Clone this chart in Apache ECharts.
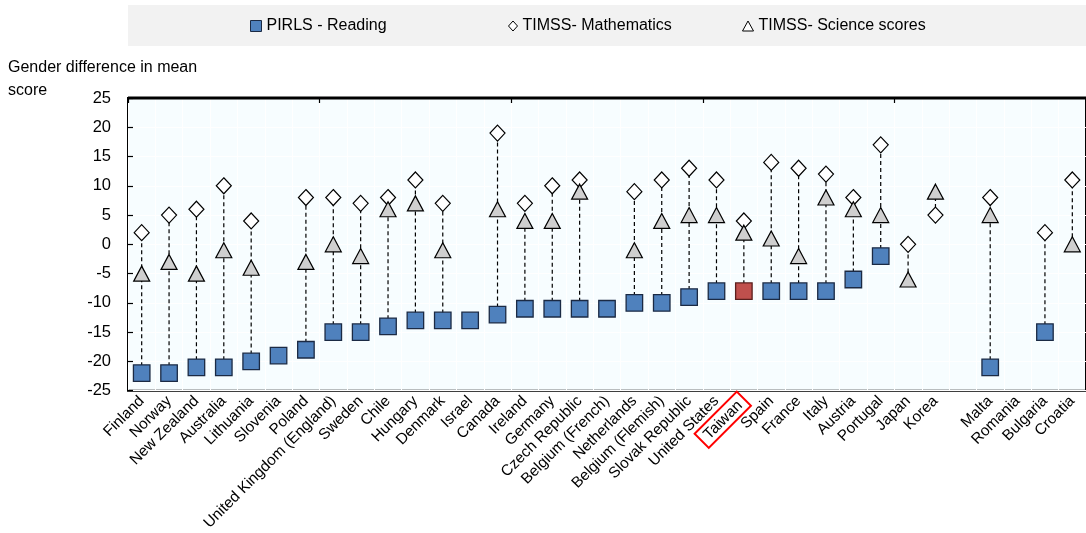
<!DOCTYPE html>
<html>
<head>
<meta charset="utf-8">
<script src="https://cdn.jsdelivr.net/npm/echarts@6/dist/echarts.min.js"></script>
<style>
html,body{margin:0;padding:0;background:#fff;}
#chart{width:1086px;height:533px;}
</style>
</head>
<body>
<div id="chart"></div>
<script>
var categories = ['Finland','Norway','New Zealand','Australia','Lithuania','Slovenia','Poland','United Kingdom (England)','Sweden','Chile','Hungary','Denmark','Israel','Canada','Ireland','Germany','Czech Republic','Belgium (French)','Netherlands','Belgium (Flemish)','Slovak Republic','United States','Taiwan','Spain','France','Italy','Austria','Portugal','Japan','Korea','','Malta','Romania','Bulgaria','Croatia'];
var reading = [-22,-22,-21,-21,-20,-19,-18,-15,-15,-14,-13,-13,-13,-12,-11,-11,-11,-11,-10,-10,-9,-8,-8,-8,-8,-8,-6,-2,null,null,null,-21,null,-15,null];
var math = [2,5,6,10,4,null,8,8,7,8,11,7,null,19,7,10,11,null,9,11,13,11,4,14,13,12,8,17,0,5,null,8,null,2,11];
var science = [-5,-3,-5,-1,-4,null,-3,0,-2,6,7,-1,null,6,4,4,9,null,-1,4,5,5,2,1,-2,8,6,5,-6,9,null,5,null,null,0];
var yTicks = [-25,-20,-15,-10,-5,0,5,10,15,20,25];
var highlight = 'Taiwan';

var FONT = 'Liberation Sans, Arial, sans-serif';

var readingData = reading.map(function(v, i){
  if (v === null) return null;
  if (categories[i] === highlight) return {value: v, itemStyle: {color: '#C0504D', borderColor: '#5a1f1d'}};
  return v;
});

var rangeData = [];
categories.forEach(function(c, i){
  var vals = [reading[i], math[i], science[i]].filter(function(v){ return v !== null; });
  if (vals.length >= 2) rangeData.push([i, Math.min.apply(null, vals), Math.max.apply(null, vals)]);
});

var chart = echarts.init(document.getElementById('chart'), null, {renderer: 'canvas'});
var legendText = {fontFamily: FONT, fontSize: 16, color: '#000'};
var option = {
  animation: false,
  backgroundColor: '#ffffff',
  graphic: [
    {type: 'rect', left: 128, top: 5, shape: {width: 958, height: 41}, style: {fill: '#F2F2F2'}, z: -10},
    {type: 'text', left: 8, top: 56, style: {text: 'Gender difference in mean\nscore', font: '16px ' + FONT, fill: '#000', lineHeight: 23}},
    {type: 'line', shape: {x1: 128, y1: 98, x2: 1086, y2: 98}, style: {stroke: '#000', lineWidth: 3}, z: 10}
  ],
  legend: [
    {left: 250, top: 18, padding: 0, itemWidth: 11, itemHeight: 11, textStyle: legendText,
      itemStyle: {borderWidth: 1}, data: [{name: 'PIRLS - Reading', icon: 'rect'}]},
    {left: 508, top: 18, padding: 0, itemWidth: 9, itemHeight: 10, textStyle: legendText,
      itemStyle: {borderWidth: 1}, data: [{name: 'TIMSS- Mathematics', icon: 'diamond'}]},
    {left: 742, top: 18, padding: 0, itemWidth: 11, itemHeight: 10, textStyle: legendText,
      itemStyle: {borderWidth: 1}, data: [{name: 'TIMSS- Science scores', icon: 'triangle', itemStyle: {color: '#ffffff', borderWidth: 1}}]}
  ],
  grid: {left: 128, right: -5, top: 98, bottom: 142, show: true, backgroundColor: '#F7FDFF', borderColor: '#000', borderWidth: 2},
  xAxis: [
    {type: 'category', data: categories, position: 'bottom', boundaryGap: true,
      axisLine: {show: false}, axisTick: {show: false},
      splitLine: {show: true, interval: 0, lineStyle: {color: '#ffffff', width: 1}},
      axisLabel: {interval: 0, rotate: 45, margin: 8, fontFamily: FONT, fontSize: 15.3, color: '#000',
        formatter: function(v){ return v === highlight ? '{hl|' + v + '}' : v; },
        rich: {hl: {fontFamily: FONT, fontSize: 15.3, color: '#000', borderColor: '#FF0000', borderWidth: 2, padding: [3, 6, 2, 6]}}}},
    {type: 'category', data: categories, boundaryGap: true,
      axisLine: {show: true, onZero: true, lineStyle: {color: '#000', width: 1.5}},
      axisTick: {show: true, inside: true, length: 5, lineStyle: {color: '#000', width: 1.2}},
      axisLabel: {show: false}, splitLine: {show: false}}
  ],
  yAxis: {type: 'value', min: yTicks[0], max: yTicks[yTicks.length - 1], interval: 5,
    axisLine: {show: false},
    axisTick: {show: true, inside: true, length: 5, lineStyle: {color: '#000', width: 1.2}},
    axisLabel: {margin: 17, fontFamily: FONT, fontSize: 16.5, color: '#000'},
    splitLine: {show: true, lineStyle: {color: '#ffffff', width: 1}}},
  series: [
    {type: 'custom', name: 'range', xAxisIndex: 0, z: 1, silent: true, data: rangeData,
      renderItem: function(params, api){
        var p1 = api.coord([api.value(0), api.value(1)]);
        var p2 = api.coord([api.value(0), api.value(2)]);
        return {type: 'line', shape: {x1: p1[0], y1: p1[1], x2: p2[0], y2: p2[1]},
          style: {stroke: '#000', lineWidth: 1.2, lineDash: [4, 3]}};
      }},
    {type: 'scatter', name: 'PIRLS - Reading', xAxisIndex: 0, z: 3, symbol: 'rect', symbolSize: 16.5, data: readingData,
      itemStyle: {color: '#4F81BD', borderColor: '#1B2A44', borderWidth: 1.3, opacity: 1}},
    {type: 'scatter', name: 'TIMSS- Mathematics', xAxisIndex: 0, z: 4, symbol: 'diamond', symbolSize: [15, 16], data: math,
      itemStyle: {color: '#ffffff', borderColor: '#000', borderWidth: 1.2, opacity: 1}},
    {type: 'scatter', name: 'TIMSS- Science scores', xAxisIndex: 0, z: 5, symbol: 'triangle', symbolSize: [16, 15], data: science,
      itemStyle: {color: '#CFCFCF', borderColor: '#000', borderWidth: 1.2, opacity: 1}}
  ]
};
chart.setOption(option);
</script>
</body>
</html>
